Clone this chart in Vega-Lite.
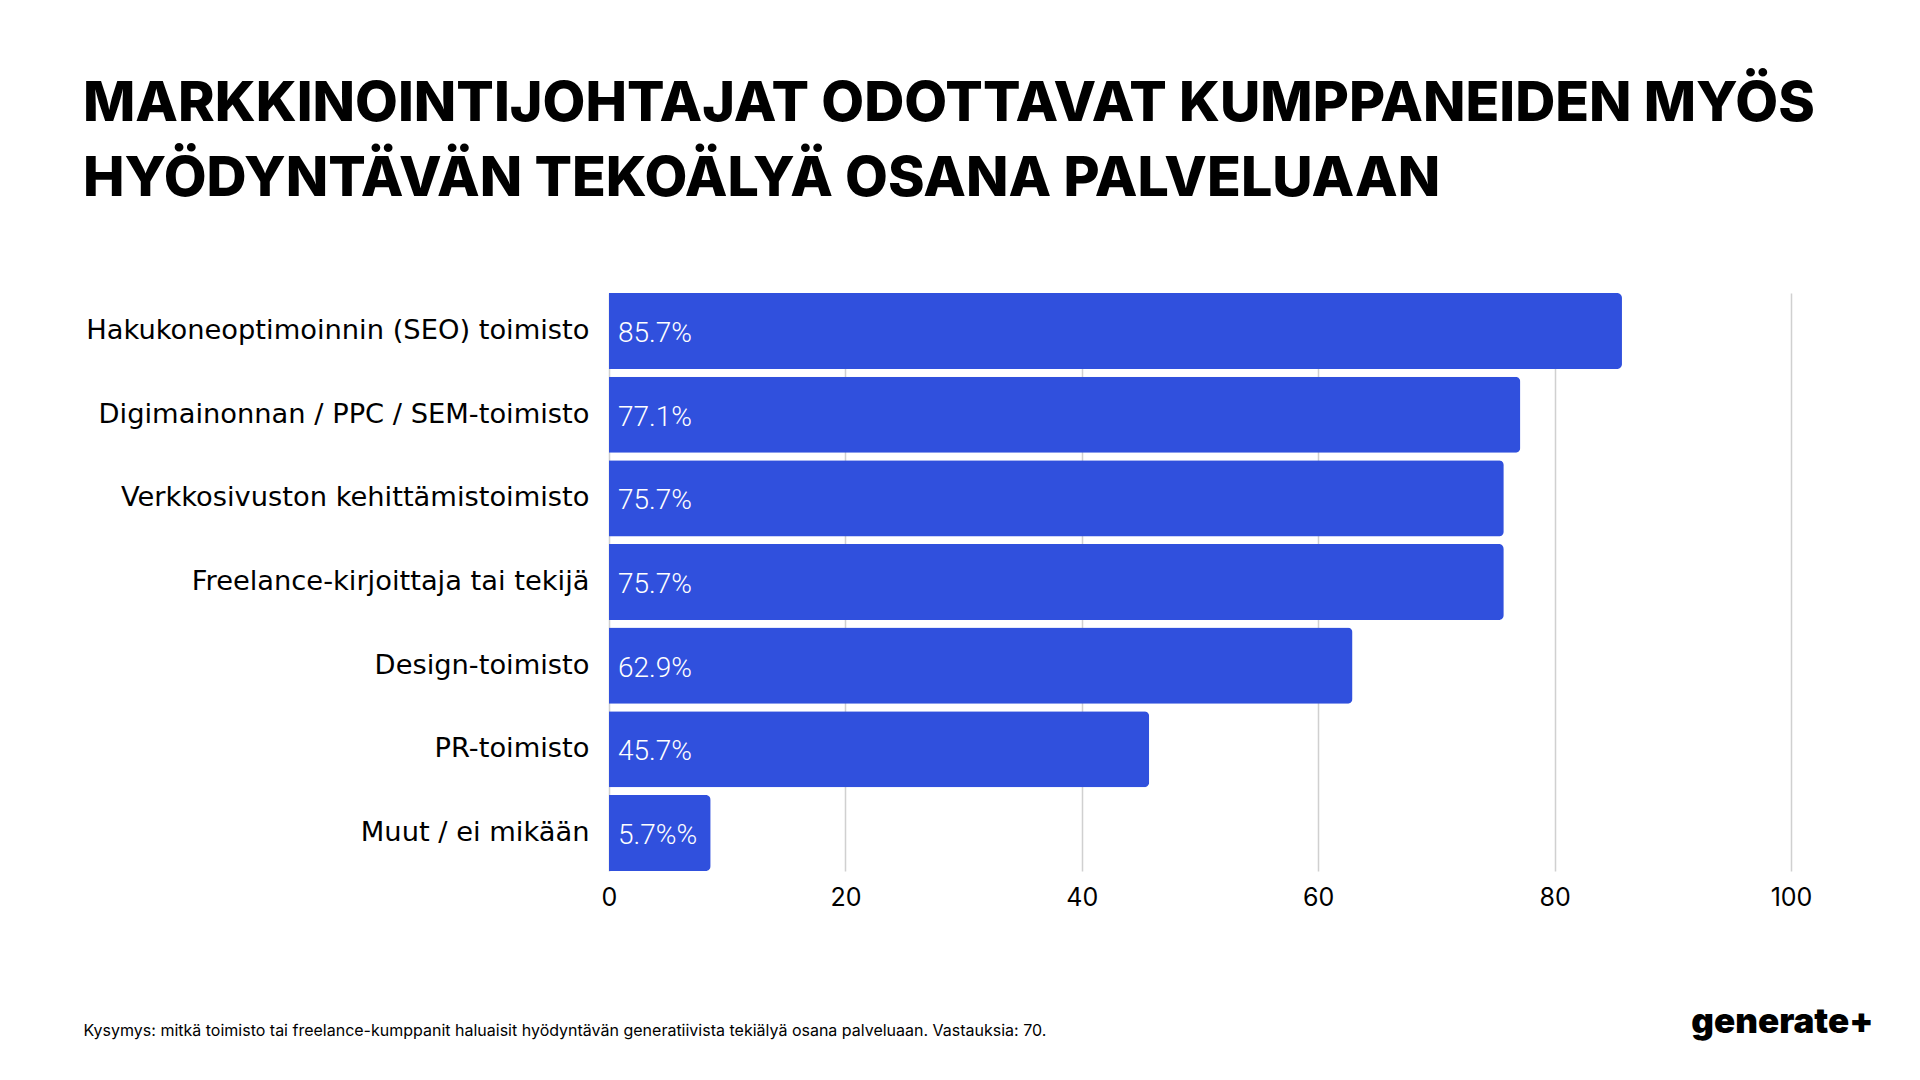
{
  "$schema": "https://vega.github.io/schema/vega-lite/v6.json",
  "width": 1182,
  "height": 578,
  "autosize": "none",
  "padding": {"left": 609, "top": 293, "right": 129, "bottom": 209},
  "background": "white",
  "config": {"view": {"stroke": null}},
  "title": {
    "text": ["MARKKINOINTIJOHTAJAT ODOTTAVAT KUMPPANEIDEN MYÖS", "HYÖDYNTÄVÄN TEKOÄLYÄ OSANA PALVELUAAN"],
    "anchor": "start",
    "frame": "group",
    "dx": -526,
    "offset": 86,
    "font": "Inter",
    "fontWeight": 800,
    "fontSize": 55.5,
    "lineHeight": 75,
    "color": "#000000"
  },
  "data": {
    "values": [
      {"category": "Hakukoneoptimoinnin (SEO) toimisto", "value": 85.7, "label": "85.7%"},
      {"category": "Digimainonnan / PPC / SEM-toimisto", "value": 77.1, "label": "77.1%"},
      {"category": "Verkkosivuston kehittämistoimisto", "value": 75.7, "label": "75.7%"},
      {"category": "Freelance-kirjoittaja tai tekijä", "value": 75.7, "label": "75.7%"},
      {"category": "Design-toimisto", "value": 62.9, "label": "62.9%"},
      {"category": "PR-toimisto", "value": 45.7, "label": "45.7%"},
      {"category": "Muut / ei mikään", "value": 8.6, "label": "5.7%%"}
    ]
  },
  "encoding": {
    "y": {
      "field": "category",
      "type": "nominal",
      "sort": null,
      "scale": {"paddingInner": 0.09, "paddingOuter": 0},
      "axis": {
        "title": "generate+",
        "titleAngle": 0,
        "titleX": 1264,
        "titleY": 739,
        "titleAlign": "right",
        "titleBaseline": "alphabetic",
        "titleFont": "Inter",
        "titleFontWeight": 900,
        "titleFontSize": 35,
        "titleColor": "#000000",
        "labelFont": "DejaVu Sans",
        "labelFontSize": 27.3,
        "labelColor": "#000000",
        "labelPadding": 20,
        "labelLimit": 700,
        "ticks": false,
        "domain": false
      }
    }
  },
  "layer": [
    {
      "mark": {"type": "bar", "color": "#3050DD", "cornerRadiusEnd": 5},
      "encoding": {
        "x": {
          "field": "value",
          "type": "quantitative",
          "scale": {"domain": [0, 100]},
          "axis": {
            "title": "Kysymys: mitkä toimisto tai freelance-kumppanit haluaisit hyödyntävän generatiivista tekiälyä osana palveluaan. Vastauksia: 70.",
            "titleX": -526,
            "titleY": 164,
            "titleAlign": "left",
            "titleAnchor": null,
            "titleBaseline": "alphabetic",
            "titleFont": "Inter",
            "titleFontSize": 16,
            "titleFontWeight": 400,
            "titleColor": "#000000",
            "labelFont": "Inter",
            "labelFontSize": 25,
            "labelColor": "#000000",
            "labelPadding": 14,
            "labelFlush": false,
            "values": [0, 20, 40, 60, 80, 100],
            "ticks": false,
            "domain": false,
            "grid": true,
            "gridColor": "#d0d0d0",
            "gridWidth": 1.5
          }
        }
      }
    },
    {
      "mark": {"type": "text", "align": "left", "baseline": "middle", "dx": 9, "dy": 3, "color": "#ffffff", "font": "Roboto", "fontWeight": 300, "fontSize": 28},
      "encoding": {
        "x": {"datum": 0},
        "text": {"field": "label"}
      }
    }
  ]
}
